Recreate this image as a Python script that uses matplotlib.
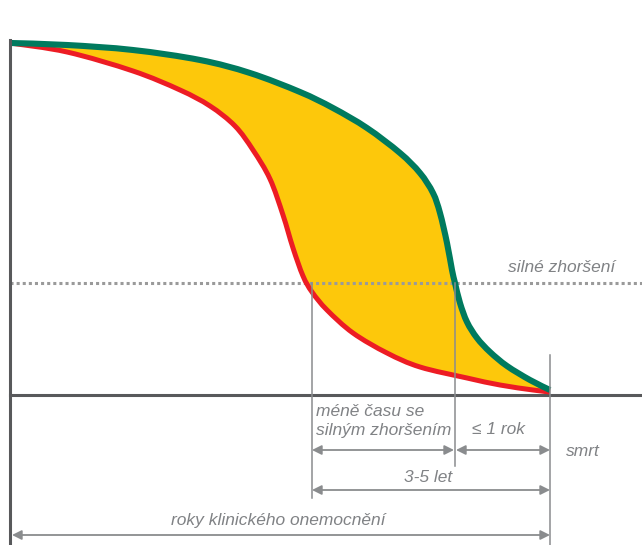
import matplotlib.pyplot as plt
import numpy as np
from matplotlib.path import Path
from matplotlib.patches import PathPatch

# curve points (x to the right, y downward, image units)
green_x = [10, 67, 133, 200, 250, 300, 333, 367, 400, 420, 433, 440, 447, 452, 455, 460, 467, 477, 490, 507, 530, 550]
green_y = [43, 45, 50, 60, 73, 92, 108, 128, 153, 173, 193, 213, 243, 270, 283, 303, 322, 338, 352, 366, 380, 390]

red_x = [10, 67, 133, 180, 210, 235, 253, 270, 283, 293, 303, 312, 327, 353, 387, 420, 467, 500, 533, 550]
red_y = [43, 52, 71, 90, 106, 126, 150, 179, 215, 248, 276, 292, 310, 333, 353, 367, 378, 385, 390, 392]

threshold_y = 283          # "silné zhoršení" level
base_y = 395               # baseline
marks_x = [312, 455, 550]  # crossing points and death

labels = {
    "severe": "silné zhoršení",
    "less": "méně času se\nsilným zhoršením",
    "year": "≤ 1 rok",
    "death": "smrt",
    "span": "3-5 let",
    "total": "roky klinického onemocnění",
}

GREEN = "#007a5e"
RED = "#ed1c24"
YELLOW = "#fdc80b"
DARK = "#58595b"
GREY = "#8a8c8e"
TEXT = "#808285"


def smooth_path(xs, ys, start=True):
    # Catmull-Rom through the points, drawn as cubic Bezier segments
    p = np.column_stack([xs, ys]).astype(float)
    ext = np.vstack([p[0], p, p[-1]])
    verts = [p[0]] if start else []
    codes = [Path.MOVETO] if start else []
    for i in range(1, len(ext) - 2):
        p0, p1, p2, p3 = ext[i - 1], ext[i], ext[i + 1], ext[i + 2]
        verts += [p1 + (p2 - p0) / 6, p2 - (p3 - p1) / 6, p2]
        codes += [Path.CURVE4] * 3
    return verts, codes


fig = plt.figure(figsize=(6.42, 5.45), dpi=100)
ax = fig.add_axes([0, 0, 1, 1])
ax.set_xlim(0, 642)
ax.set_ylim(545, 0)
ax.axis("off")

gv, gc = smooth_path(green_x, green_y)
rv, rc = smooth_path(red_x, red_y)
rv_back, rc_back = smooth_path(red_x[::-1], red_y[::-1], start=False)

# yellow area between the curves
fill_v = gv + [np.array([red_x[-1], red_y[-1]], float)] + rv_back + [gv[0]]
fill_c = gc + [Path.LINETO] + rc_back + [Path.CLOSEPOLY]
ax.add_patch(PathPatch(Path(fill_v, fill_c), facecolor=YELLOW, edgecolor="none", zorder=1))

ax.add_patch(PathPatch(Path(rv, rc), facecolor="none", edgecolor=RED, lw=3.6,
                       capstyle="butt", joinstyle="round", zorder=3))
ax.add_patch(PathPatch(Path(gv, gc), facecolor="none", edgecolor=GREEN, lw=4.4,
                       capstyle="butt", joinstyle="round", zorder=4))

# axes lines
ax.plot([10, 10], [40, 545], color=DARK, lw=2.2, zorder=5)
ax.plot([10, 642], [base_y, base_y], color=DARK, lw=2.2, zorder=2)
ax.plot([10, 642], [threshold_y, threshold_y], color="#9a9a9a", lw=2.2,
        linestyle=(0, (1, 1)), dash_capstyle="butt", zorder=2)

# thin vertical markers
ax.plot([marks_x[0]] * 2, [threshold_y, 498], color=GREY, lw=1.1, zorder=5)
ax.plot([marks_x[1]] * 2, [threshold_y, 466], color=GREY, lw=1.1, zorder=5)
ax.plot([marks_x[2]] * 2, [355, 545], color=GREY, lw=1.1, zorder=5)


def arrow(x0, x1, y):
    ax.annotate("", xy=(x1, y), xytext=(x0, y),
                arrowprops=dict(arrowstyle="<|-|>", color=GREY, lw=1.3,
                                mutation_scale=14, shrinkA=0, shrinkB=0))


arrow(marks_x[0], marks_x[1] - 1, 450)
arrow(marks_x[1] + 1, marks_x[2], 450)
arrow(marks_x[0], marks_x[2], 490)
arrow(12, marks_x[2], 535)

font = dict(family="Liberation Sans", style="italic", color=TEXT, fontsize=12.5)
ax.text(615, 267, labels["severe"], ha="right", va="center", **font)
ax.text(316, 421, labels["less"], ha="left", va="center", linespacing=1.3, **font)
ax.text(498, 430, labels["year"], ha="center", va="center", **font)
ax.text(566, 452, labels["death"], ha="left", va="center", **font)
ax.text(428, 477, labels["span"], ha="center", va="center", **font)
ax.text(278, 520, labels["total"], ha="center", va="center", **font)

fig.savefig("out.png", dpi=100)
